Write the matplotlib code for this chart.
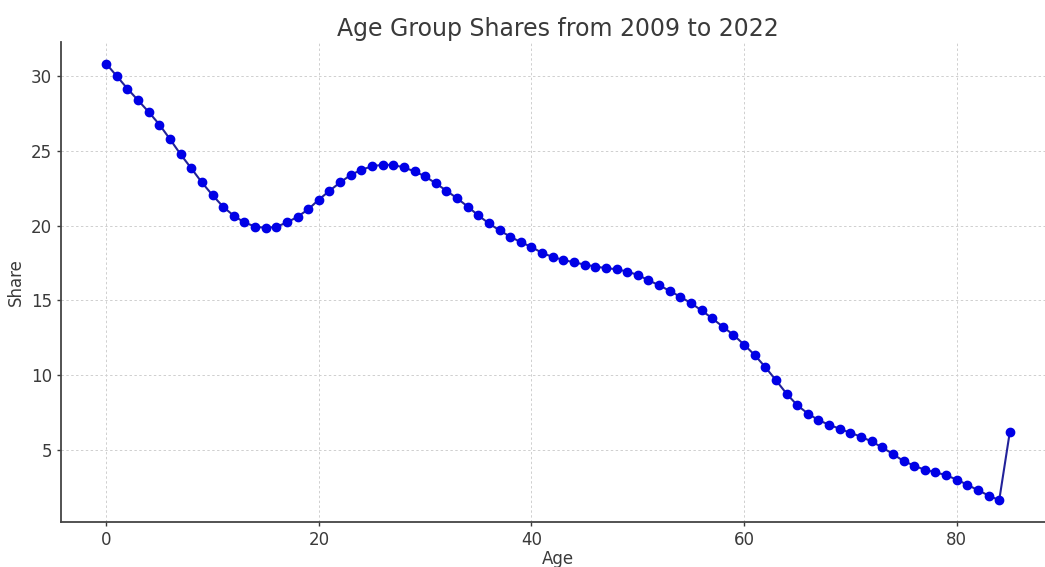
import matplotlib
matplotlib.use('Agg')
import matplotlib.pyplot as plt

# Age 0..85, share values
ages = list(range(0, 86))
shares = [
    30.85, 30.02, 29.18, 28.40, 27.62, 26.78, 25.80, 24.78, 23.85, 22.90,
    22.05, 21.27, 20.67, 20.22, 19.95, 19.85, 19.93, 20.22, 20.60, 21.10,
    21.75, 22.34, 22.90, 23.40, 23.75, 23.98, 24.09, 24.07, 23.91, 23.64,
    23.31, 22.84, 22.35, 21.84, 21.29, 20.69, 20.16, 19.69, 19.27, 18.90,
    18.58, 18.18, 17.91, 17.71, 17.55, 17.40, 17.27, 17.16, 17.09, 16.93,
    16.71, 16.35, 16.02, 15.64, 15.24, 14.82, 14.33, 13.80, 13.24, 12.69,
    12.04, 11.34, 10.53, 9.65, 8.75, 7.98, 7.42, 6.98, 6.67, 6.40,
    6.13, 5.87, 5.55, 5.15, 4.71, 4.24, 3.93, 3.65, 3.49, 3.29,
    3.00, 2.65, 2.29, 1.93, 1.62, 6.20,
]

TEXT = '#3a3a3a'

fig = plt.figure(figsize=(10.45, 5.67), dpi=100)
# the reference is cropped on the right, so the axes run past the figure edge
ax = fig.add_axes([0.0584, 0.0794, 0.9512, 0.8466])

ax.plot(ages, shares, marker='o', linestyle='-', color='#22229a', linewidth=1.5,
        markersize=6, markerfacecolor='#0000e6', markeredgecolor='#0000e6')

ax.set_title('Age Group Shares from 2009 to 2022', fontsize=17, color=TEXT, pad=4)
ax.set_xlabel('Age', fontsize=12, color=TEXT, labelpad=1)
ax.set_ylabel('Share', fontsize=12, color=TEXT)
ax.tick_params(labelsize=12, colors=TEXT, length=3, width=1)
ax.set_xticks([0, 20, 40, 60, 80])
ax.set_yticks([5, 10, 15, 20, 25, 30])

ax.grid(True, linestyle=(0, (2.5, 2.5)), color='#cfcfcf', linewidth=0.7)
ax.spines['top'].set_visible(False)
ax.spines['right'].set_visible(False)
for s in ('left', 'bottom'):
    ax.spines[s].set_color('#444444')
    ax.spines[s].set_linewidth(1.3)

plt.savefig('out.png', dpi=100)
